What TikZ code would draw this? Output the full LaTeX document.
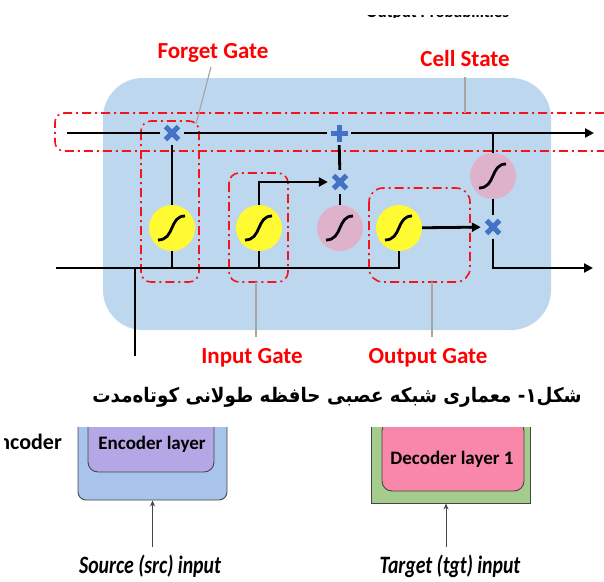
\documentclass[tikz,border=0pt]{standalone}
\usepackage{fontspec}
\setmainfont{Carlito}
\newfontfamily\fafont[Script=Arabic]{DejaVu Sans}
\TeXXeTstate=1
\usetikzlibrary{arrows.meta}
\definecolor{cellbg}{RGB}{189,215,238}
\definecolor{sigyel}{RGB}{255,250,50}
\definecolor{tanhpink}{RGB}{223,178,203}
\definecolor{opblue}{RGB}{68,114,196}
\definecolor{gatered}{RGB}{245,20,30}
\definecolor{labred}{RGB}{255,0,0}
\definecolor{leadgray}{RGB}{166,166,166}
\definecolor{encblue}{RGB}{169,196,235}
\definecolor{encpurple}{RGB}{180,167,229}
\definecolor{decgreen}{RGB}{163,204,141}
\definecolor{decpink}{RGB}{248,135,170}
\definecolor{boxline}{RGB}{70,70,70}
\tikzset{
  flow/.style={line width=2.8pt, black},
  flowarrow/.style={flow, -{Triangle[length=9pt,width=9pt]}},
  gatebox/.style={gatered, line width=1.6pt, dash pattern=on 9pt off 4pt on 2pt off 4pt},
  leader/.style={leadgray, line width=1.2pt},
  gatelabel/.style={labred, font=\bfseries\fontsize{23}{23}\selectfont, anchor=base, inner sep=0pt},
  sigfun/.style={circle, minimum size=46pt, inner sep=0pt,
    path picture={\draw[line width=2.8pt, black, shift={(path picture bounding box.center)}]
      (-14,12) .. controls (3,12) and (-3,-12) .. (13,-12);}},
  sigmoid/.style={sigfun, fill=sigyel},
  tanhfun/.style={sigfun, fill=tanhpink},
  times/.style={circle, minimum size=24pt, inner sep=0pt,
    path picture={\draw[line width=5pt, opblue, shift={(path picture bounding box.center)}]
      (-6.5,-6.5) -- (6.5,6.5) (-6.5,6.5) -- (6.5,-6.5);}},
  plusop/.style={circle, minimum size=24pt, inner sep=0pt,
    path picture={\draw[line width=5pt, opblue, shift={(path picture bounding box.center)}]
      (-8.5,0) -- (8.5,0) (0,-8.5) -- (0,8.5);}},
  layerbox/.style={draw=boxline, line width=0.9pt},
  boxtext/.style={font=\bfseries\fontsize{19}{19}\selectfont, anchor=base, inner sep=0pt},
  inlabel/.style={font=\bfseries\itshape\fontsize{25}{25}\selectfont, anchor=base, inner sep=0pt},
  inarrow/.style={line width=0.9pt, boxline, -{Stealth[length=6pt,width=5pt]}}
}
\begin{document}
\begin{tikzpicture}[x=1pt,y=-1pt]
\useasboundingbox (0,0) rectangle (604,581);

% partially hidden heading
\begin{scope}
\clip (355,15) rectangle (545,17.6);
\node[font=\bfseries\fontsize{17}{17}\selectfont, anchor=base west, inner sep=0pt] (outp) at (366,17.3) {Output Probabilities};
\end{scope}

% LSTM cell background
\fill[cellbg, rounded corners=40pt] (103,78) rectangle (551,330);

% dash-dot gate outlines
\draw[gatebox, rounded corners=9pt] (604,113) -- (55,113) -- (55,151) -- (604,151);
\draw[gatebox, rounded corners=10pt] (141,121) rectangle (199,282);
\draw[gatebox, rounded corners=10pt] (229,173) rectangle (288,282);
\draw[gatebox, rounded corners=14pt] (369,188) rectangle (470,282);

% nodes
\node[times] (fx) at (172,133) {};
\node[plusop] (plus) at (339,133) {};
\node[times] (ix) at (340,182) {};
\node[times] (ox) at (493,227) {};
\node[sigmoid] (s1) at (172,228) {};
\node[sigmoid] (s2) at (259,228) {};
\node[tanhfun] (t1) at (340,228) {};
\node[sigmoid] (s3) at (399,228) {};
\node[tanhfun] (t2) at (493,176) {};
\coordinate (topL) at (67,133);
\coordinate (topR) at (594,133);
\coordinate (botL) at (56,268);
\coordinate (botR) at (593,268);
\coordinate (inB) at (135,356);
\coordinate (junc) at (135,268);

% flows
\draw[flow] (topL) -- (fx);
\draw[flow] (fx) -- (plus);
\draw[flowarrow] (plus) -- (topR);
\draw[flow] (t2) -- (t2 |- topR);
\draw[flow] (s1) -- (fx);
\draw[flow] (s1) -- (s1 |- botL);
\draw[flow] (botL) -| (s3);
\draw[flow] (s2) -- (s2 |- botL);
\draw[flowarrow] (s2) |- (ix);
\draw[flow] (t1) -- (ix);
\draw[flow] (ix) -- (plus);
\draw[flowarrow] (s3) -- (ox);
\draw[flow] (t2) -- (ox);
\draw[flowarrow] (ox) |- (botR);
\draw[flow] (inB) -- (junc);

% labels and leaders
\node[gatelabel] (fgl) at (213,58) {Forget Gate};
\node[gatelabel] (csl) at (465,66) {Cell State};
\node[gatelabel] (igl) at (252,363) {Input Gate};
\node[gatelabel] (ogl) at (428,363) {Output Gate};
\coordinate (fgTip) at (196,124);
\coordinate (csTip) at (465,113);
\coordinate (igTip) at (256,282);
\coordinate (ogTip) at (432,282);
\draw[leader] (211,67) -- (fgTip);
\draw[leader] (465,77) -- (csTip);
\draw[leader] (igTip) -- (256,337);
\draw[leader] (ogTip) -- (432,337);

% Persian caption
\node[font=\fafont\bfseries\fontsize{20}{20}\selectfont, inner sep=0pt] (cap) at (337,397) {\scalebox{0.915}[1]{\beginR شکل۱- معماری شبکه عصبی حافظه طولانی کوتاه‌مدت\endR}};

% lower excerpt
\begin{scope}
\clip (4,427) rectangle (604,581);
\node[font=\bfseries\fontsize{22}{22}\selectfont, anchor=base east, inner sep=0pt] (encw) at (62,449) {Encoder};
\end{scope}
\begin{scope}
\clip (0,427) rectangle (604,581);
\node[layerbox, fill=encblue, rounded corners=8pt, minimum width=149pt, minimum height=100pt, inner sep=0pt] (encO) at (152.5,450) {};
\node[layerbox, fill=encpurple, rounded corners=10pt, minimum width=126pt, minimum height=72pt, inner sep=0pt] (encI) at (151,436) {};
\node[layerbox, fill=decgreen, minimum width=159pt, minimum height=100pt, inner sep=0pt] (decO) at (450.5,453) {};
\node[layerbox, fill=decpink, rounded corners=10pt, minimum width=142pt, minimum height=70pt, inner sep=0pt] (decI) at (453,456) {};
\end{scope}
\node[boxtext] (enct) at (152,449) {Encoder layer};
\node[boxtext] (dect) at (452,464) {Decoder layer 1};
\coordinate (srcA) at (152.5,547);
\coordinate (tgtA) at (446,547);
\draw[inarrow] (srcA) -- (srcA |- encO.south);
\draw[inarrow] (tgtA) -- (tgtA |- decO.south);
\node[inlabel] (srcl) at (150,573) {\scalebox{0.79}[1]{Source (src) input}};
\node[inlabel] (tgtl) at (450,573) {\scalebox{0.79}[1]{Target (tgt) input}};
\end{tikzpicture}
\end{document}
